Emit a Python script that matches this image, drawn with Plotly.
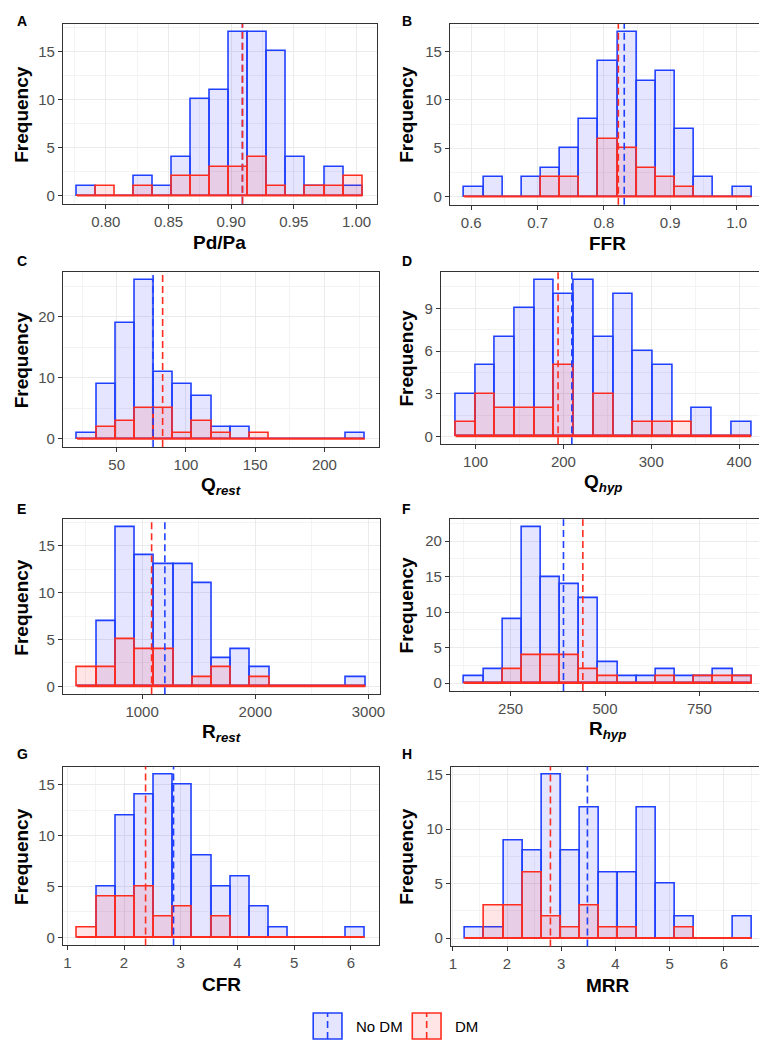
import plotly.graph_objects as go

W, H = 767, 1040

# ---------------- data ----------------
panel_letters = ["A", "B", "C", "D", "E", "F", "G", "H"]
x_titles = ["<b>Pd/Pa</b>", "<b>FFR</b>", "<b>Q<sub><i>rest</i></sub></b>",
            "<b>Q<sub><i>hyp</i></sub></b>", "<b>R<sub><i>rest</i></sub></b>",
            "<b>R<sub><i>hyp</i></sub></b>", "<b>CFR</b>", "<b>MRR</b>"]

# histogram binning (15 bins each): first edge and bin width
bin_start = [0.7771, 0.5896, 21.5, 77.2, 426.6, 127.4, 1.174, 1.2295]
bin_width = [0.01517, 0.02888, 13.85, 22.44, 169.8, 50.73, 0.3383, 0.3522]

nodm_pdpa = [1, 0, 0, 2, 1, 4, 10, 11, 17, 17, 15, 4, 1, 3, 1]
dm_pdpa   = [0, 1, 0, 1, 0, 2, 2, 3, 3, 4, 1, 0, 1, 1, 2]
nodm_ffr  = [1, 2, 0, 2, 3, 5, 8, 14, 17, 12, 13, 7, 2, 0, 1]
dm_ffr    = [0, 0, 0, 0, 2, 2, 0, 6, 5, 3, 2, 1, 0, 0, 0]
nodm_qrest = [1, 9, 19, 26, 11, 9, 7, 2, 2, 0, 0, 0, 0, 0, 1]
dm_qrest   = [0, 2, 3, 5, 5, 1, 3, 1, 0, 1, 0, 0, 0, 0, 0]
nodm_qhyp = [3, 5, 7, 9, 11, 10, 11, 7, 10, 6, 5, 0, 2, 0, 1]
dm_qhyp   = [1, 3, 2, 2, 2, 5, 0, 3, 0, 1, 1, 1, 0, 0, 0]
nodm_rrest = [0, 7, 17, 14, 13, 13, 11, 3, 4, 2, 0, 0, 0, 0, 1]
dm_rrest   = [2, 2, 5, 4, 4, 0, 1, 2, 0, 1, 0, 0, 0, 0, 0]
nodm_rhyp = [1, 2, 9, 22, 15, 14, 12, 3, 1, 1, 2, 1, 1, 2, 1]
dm_rhyp   = [0, 0, 2, 4, 4, 4, 2, 1, 0, 0, 1, 0, 1, 1, 1]
nodm_cfr = [0, 5, 12, 14, 16, 15, 8, 5, 6, 3, 1, 0, 0, 0, 1]
dm_cfr   = [1, 4, 4, 5, 2, 3, 0, 2, 0, 0, 0, 0, 0, 0, 0]
nodm_mrr = [1, 1, 9, 8, 15, 8, 12, 6, 6, 12, 5, 2, 0, 0, 2]
dm_mrr   = [0, 3, 3, 6, 2, 1, 3, 1, 1, 0, 0, 1, 0, 0, 0]

mean_nodm = [0.909, 0.8307, 76.3, 209.6, 1201, 390, 2.873, 3.482]
mean_dm   = [0.909, 0.8218, 83.2, 193.9, 1084, 441.3, 2.380, 2.80]

x_tickvals = [[0.80, 0.85, 0.90, 0.95, 1.00], [0.6, 0.7, 0.8, 0.9, 1.0],
              [50, 100, 150, 200], [100, 200, 300, 400], [1000, 2000, 3000],
              [250, 500, 750], [1, 2, 3, 4, 5, 6], [1, 2, 3, 4, 5, 6]]
x_ticktext = [["0.80", "0.85", "0.90", "0.95", "1.00"], ["0.6", "0.7", "0.8", "0.9", "1.0"],
              ["50", "100", "150", "200"], ["100", "200", "300", "400"],
              ["1000", "2000", "3000"], ["250", "500", "750"],
              ["1", "2", "3", "4", "5", "6"], ["1", "2", "3", "4", "5", "6"]]
y_step = [5, 5, 10, 3, 5, 5, 5, 5]

nodm_counts = [nodm_pdpa, nodm_ffr, nodm_qrest, nodm_qhyp, nodm_rrest, nodm_rhyp, nodm_cfr, nodm_mrr]
dm_counts = [dm_pdpa, dm_ffr, dm_qrest, dm_qhyp, dm_rrest, dm_rhyp, dm_cfr, dm_mrr]

# ---------------- layout (pixel boxes of plot panels) ----------------
boxes = [(53.3, 370, 15, 195), (444, 763, 15, 196),
         (53.3, 372.7, 263.3, 438.3), (434.7, 763, 263.3, 435.7),
         (53.3, 373.3, 510.7, 686), (444, 763, 510.7, 682.7),
         (53.3, 372.7, 758.3, 937.3), (445, 763, 758.3, 938.3)]
letter_y = [12, 12, 252, 252, 500, 500, 746, 746]

BLUE = "#2040FF"
RED = "#FF2D20"
BLUE_FILL = "rgba(0,0,255,0.1)"
RED_FILL = "rgba(255,0,0,0.1)"
FONT = "Liberation Sans, Arial, Helvetica, sans-serif"

fig = go.Figure()
shapes = []
annotations = []

for i in range(8):
    n = i + 1
    xa = "x" if n == 1 else f"x{n}"
    ya = "y" if n == 1 else f"y{n}"
    w = bin_width[i]
    nb = len(nodm_counts[i])
    edges = [bin_start[i] + k * w for k in range(nb + 1)]
    centers = [bin_start[i] + (k + 0.5) * w for k in range(nb)]

    fig.add_trace(go.Bar(x=centers, y=nodm_counts[i], width=w, xaxis=xa, yaxis=ya,
                         marker=dict(color=BLUE_FILL, line=dict(color=BLUE, width=1.6)),
                         showlegend=False, hoverinfo="skip"))
    fig.add_trace(go.Bar(x=centers, y=dm_counts[i], width=w, xaxis=xa, yaxis=ya,
                         marker=dict(color=RED_FILL, line=dict(color=RED, width=1.6)),
                         showlegend=False, hoverinfo="skip"))
    fig.add_trace(go.Scatter(x=[edges[0], edges[-1]], y=[0, 0], mode="lines",
                             line=dict(color=RED, width=1.6), xaxis=xa, yaxis=ya,
                             showlegend=False, hoverinfo="skip"))

    # ranges with 5% expansion
    span = edges[-1] - edges[0]
    xr = [edges[0] - 0.05 * span, edges[-1] + 0.05 * span]
    ymax = max(max(nodm_counts[i]), max(dm_counts[i]))
    yr = [-0.05 * ymax, 1.05 * ymax]

    xt = x_tickvals[i]
    xstep = xt[1] - xt[0]
    xminor = [xt[0] - xstep / 2 + k * xstep for k in range(len(xt) + 1)]
    xminor = [v for v in xminor if xr[0] <= v <= xr[1]]
    ys = y_step[i]
    ymaj = [k * ys for k in range(int(yr[1] // ys) + 1)]
    ymin_ = [ys / 2 + k * ys for k in range(len(ymaj) + 1)]
    ymin_ = [v for v in ymin_ if v <= yr[1]]

    x0, x1, y0, y1 = boxes[i]
    common = dict(showline=True, mirror=True, linecolor="#333333", linewidth=1,
                  ticks="outside", ticklen=4, tickcolor="#333333", tickwidth=1,
                  showgrid=True, gridcolor="#EBEBEB", gridwidth=1.1, zeroline=False,
                  tickfont=dict(family=FONT, size=15, color="#4D4D4D"), fixedrange=True)
    fig.layout[("xaxis" if n == 1 else f"xaxis{n}")] = dict(
        domain=[x0 / W, x1 / W], anchor=ya, range=xr, tickmode="array",
        tickvals=xt, ticktext=x_ticktext[i],
        minor=dict(tickmode="array", tickvals=xminor, showgrid=True,
                   gridcolor="#F3F3F3", gridwidth=0.6, ticks=""),
        **common)
    fig.layout[("yaxis" if n == 1 else f"yaxis{n}")] = dict(
        domain=[1 - y1 / H, 1 - y0 / H], anchor=xa, range=yr, tickmode="array",
        tickvals=ymaj, ticktext=[str(v) for v in ymaj],
        minor=dict(tickmode="array", tickvals=ymin_, showgrid=True,
                   gridcolor="#F3F3F3", gridwidth=0.6, ticks=""),
        **common)

    # mean lines
    for m, col in [(mean_nodm[i], BLUE), (mean_dm[i], RED)]:
        shapes.append(dict(type="line", xref=xa, yref=f"{ya} domain", x0=m, x1=m, y0=0, y1=1,
                           line=dict(color=col, width=1.6, dash="7px,4px"), layer="above"))

    # titles
    annotations.append(dict(text=x_titles[i], xref="paper", yref="paper",
                            x=(x0 + x1) / 2 / W, y=1 - (y1 + 39) / H,
                            xanchor="center", yanchor="middle", showarrow=False,
                            font=dict(family=FONT, size=19, color="black")))
    annotations.append(dict(text="<b>Frequency</b>", xref="paper", yref="paper",
                            x=(12 if i % 2 == 0 else 400) / W, y=1 - (y0 + y1) / 2 / H,
                            xanchor="center", yanchor="middle", textangle=-90, showarrow=False,
                            font=dict(family=FONT, size=19, color="black")))
    annotations.append(dict(text=f"<b>{panel_letters[i]}</b>", xref="paper", yref="paper",
                            x=(5 if i % 2 == 0 else 394) / W, y=1 - letter_y[i] / H,
                            xanchor="left", yanchor="middle", showarrow=False,
                            font=dict(family=FONT, size=14, color="black")))

# ---------------- legend (drawn manually) ----------------
legend_items = [("No DM", BLUE, BLUE_FILL, 306), ("DM", RED, RED_FILL, 406)]
for label, col, fill, lx in legend_items:
    shapes.append(dict(type="rect", xref="paper", yref="paper",
                       x0=lx / W, x1=(lx + 29) / W, y0=1 - 1031 / H, y1=1 - 1005 / H,
                       fillcolor=fill, line=dict(color=col, width=1.6)))
    shapes.append(dict(type="line", xref="paper", yref="paper",
                       x0=(lx + 14.5) / W, x1=(lx + 14.5) / W, y0=1 - 1031 / H, y1=1 - 1005 / H,
                       line=dict(color=col, width=1.6, dash="7px,4px")))
    annotations.append(dict(text=label, xref="paper", yref="paper",
                            x=(lx + 41) / W, y=1 - 1018 / H, xanchor="left", yanchor="middle",
                            showarrow=False, font=dict(family=FONT, size=15, color="black")))

fig.update_layout(width=W, height=H, margin=dict(l=0, r=0, t=0, b=0),
                  paper_bgcolor="white", plot_bgcolor="white", barmode="overlay",
                  bargap=0, shapes=shapes, annotations=annotations, showlegend=False,
                  font=dict(family=FONT))

fig.write_html("out.html")
